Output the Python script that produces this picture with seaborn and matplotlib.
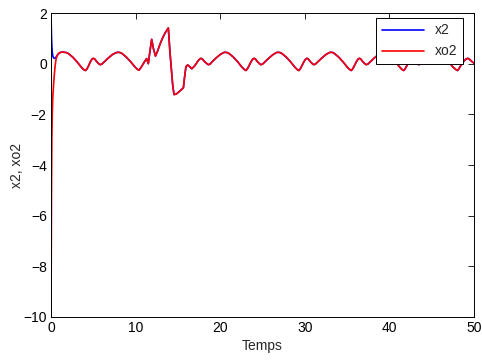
import matplotlib
matplotlib.use("Agg")
import matplotlib.pyplot as plt
import seaborn as sns
import pandas as pd

# start-up transients (differ between the two series)
t_start = [0.0, 0.03, 0.06, 0.1, 0.15, 0.2, 0.3, 0.4, 0.5, 0.6, 0.7]
x2_start = [2.0, 1.5, 1.05, 0.7, 0.45, 0.32, 0.23, 0.21, 0.22, 0.26, 0.31]
xo2_start = [-10.0, -7.5, -5.0, -3.0, -2.0, -1.4, -0.85, -0.4, -0.05, 0.18, 0.3]

# common trajectory (both series coincide)
t_common = [0.8, 1.0, 1.3, 1.56, 1.8, 2.06, 2.56, 3.06, 3.56, 3.85, 4.06, 4.25, 4.45, 4.66, 4.85, 5.0, 5.15,
            5.36, 5.6, 5.8, 6.0, 6.26, 6.76, 7.26, 7.66, 7.9, 8.15, 8.4, 8.9, 9.4, 9.9, 10.2, 10.4,
            10.7, 11.0, 11.3, 11.5, 11.7, 11.9, 12.1, 12.35, 12.6, 12.9, 13.2, 13.5, 13.87,
            14.05, 14.2, 14.4, 14.55, 14.8, 15.1, 15.4, 15.65, 15.8, 15.95, 16.15, 16.4, 16.65,
            17.0, 17.4, 17.6, 17.75, 17.9, 18.1, 18.35, 18.6, 18.8, 19.0, 19.5, 20.0, 20.35,
            20.55, 20.8, 21.05, 21.55, 22.05, 22.55, 22.85, 23.05, 23.2, 23.35, 23.65, 23.85,
            24.0, 24.15, 24.35, 24.6, 24.8, 25.0, 25.25, 25.75, 26.25, 26.6, 26.8, 27.05,
            27.3, 27.8, 28.3, 28.8, 29.1, 29.3, 29.45, 29.6, 29.9, 30.1, 30.25, 30.4, 30.6,
            30.85, 31.05, 31.25, 31.5, 32.0, 32.5, 32.85, 33.05, 33.3, 33.5, 34.0, 34.5, 35.0,
            35.3, 35.5, 35.65, 35.8, 36.1, 36.3, 36.45, 36.6, 36.8, 37.05, 37.25, 37.45, 37.7,
            38.2, 38.7, 39.05, 39.25, 39.5, 39.7, 40.2, 40.7, 41.2, 41.5, 41.7, 41.85, 42.0,
            42.3, 42.5, 42.65, 42.8, 43.0, 43.25, 43.45, 43.65, 43.9, 44.4, 44.9, 45.25, 45.5,
            45.75, 45.95, 46.5, 47.0, 47.5, 47.85, 48.05, 48.2, 48.4, 48.8, 49.05, 49.25, 49.4,
            49.6, 49.8, 50.0]
y_common = [0.36, 0.43, 0.46, 0.45, 0.44, 0.40, 0.26, 0.08, -0.13, -0.23, -0.27, -0.21, -0.08, 0.08, 0.18, 0.21, 0.19,
            0.10, 0.01, -0.04, -0.02, 0.06, 0.22, 0.36, 0.43, 0.45, 0.44, 0.40, 0.26, 0.08, -0.12, -0.22, -0.26,
            -0.12, 0.05, 0.20, 0.0, 0.5, 0.96, 0.6, 0.3, 0.5, 0.78, 1.02, 1.22, 1.41,
            0.5, -0.1, -0.9, -1.22, -1.2, -1.12, -1.03, -0.95, -0.5, -0.12, -0.05, -0.12, -0.2,
            -0.08, 0.12, 0.19, 0.21, 0.18, 0.10, 0.02, -0.04, -0.02, 0.06, 0.22, 0.36, 0.43,
            0.45, 0.44, 0.40, 0.26, 0.08, -0.13, -0.23, -0.27, -0.21, -0.12, 0.08, 0.18,
            0.21, 0.19, 0.10, 0.01, -0.04, -0.02, 0.06, 0.22, 0.36, 0.43, 0.45, 0.44,
            0.40, 0.26, 0.08, -0.13, -0.23, -0.27, -0.21, -0.12, 0.08, 0.18, 0.21, 0.19, 0.10,
            0.01, -0.04, -0.02, 0.06, 0.22, 0.36, 0.43, 0.45, 0.44, 0.40, 0.26, 0.08, -0.13,
            -0.23, -0.27, -0.21, -0.12, 0.08, 0.18, 0.21, 0.19, 0.10, 0.01, -0.04, -0.02, 0.06,
            0.22, 0.36, 0.43, 0.45, 0.44, 0.40, 0.26, 0.08, -0.13, -0.23, -0.27, -0.21, -0.12,
            0.08, 0.18, 0.21, 0.19, 0.10, 0.01, -0.04, -0.02, 0.06, 0.22, 0.36, 0.43, 0.45,
            0.44, 0.40, 0.26, 0.08, -0.13, -0.23, -0.27, -0.21, -0.1, 0.1, 0.18, 0.21, 0.19,
            0.13, 0.07, 0.02]

x_ticks = [0, 10, 20, 30, 40, 50]
y_ticks = [-10, -8, -6, -4, -2, 0, 2]

sns.set_style("white")
plt.rcParams["font.family"] = ["Liberation Sans", "DejaVu Sans"]
plt.rcParams["axes.unicode_minus"] = True

t_all = t_start + t_common
df = pd.DataFrame({
    "t": t_all + t_all,
    "v": x2_start + y_common + xo2_start + y_common,
    "s": ["x2"] * len(t_all) + ["xo2"] * len(t_all),
})

fig = plt.figure(figsize=(4.82, 3.61), dpi=100)
ax = fig.add_axes([51 / 482, 1 - 317 / 361, 423 / 482, 304 / 361])
sns.lineplot(data=df, x="t", y="v", hue="s", hue_order=["x2", "xo2"],
             palette={"x2": "#0000ff", "xo2": "#ff0000"}, linewidth=1.2,
             sort=False, estimator=None, ax=ax)

ax.set_xlim(0, 50)
ax.set_ylim(-10, 2)
ax.set_xticks(x_ticks)
ax.set_yticks(y_ticks)
ax.tick_params(direction="in", length=4, width=0.6, top=True, right=True,
               labelsize=10, colors="black", pad=3)
for sp in ax.spines.values():
    sp.set_color("black")
    sp.set_linewidth(0.7)
    sp.set_visible(True)
ax.set_xlabel("Temps", fontsize=10, labelpad=3)
ax.set_ylabel("x2, xo2", fontsize=10)
ax.yaxis.set_label_coords(-27 / 423, 0.5)

h, l = ax.get_legend_handles_labels()
leg = ax.legend(h, l, loc="upper right", bbox_to_anchor=(0.974, 0.984),
                borderaxespad=0, fancybox=False, framealpha=1, edgecolor="black",
                fontsize=10, handlelength=3.0, title=None)
leg.get_frame().set_linewidth(0.7)

fig.savefig("out.png", dpi=100)
